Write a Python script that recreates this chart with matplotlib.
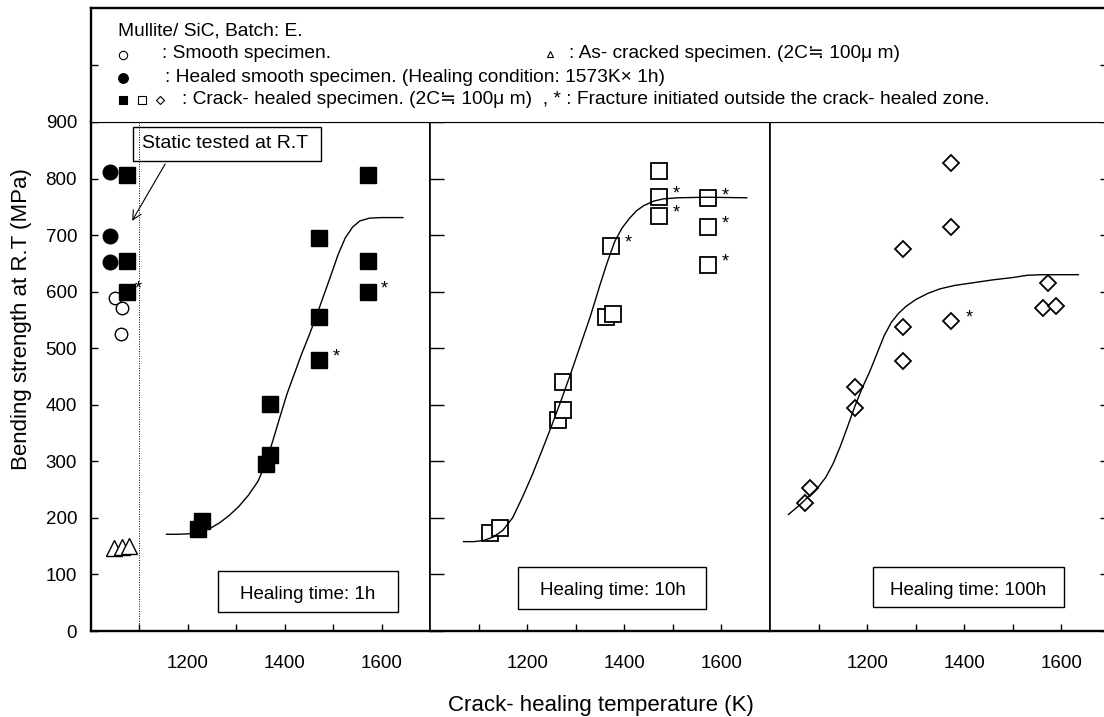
import matplotlib.pyplot as plt
from matplotlib.patches import Rectangle

plt.rcParams['font.family'] = ['Liberation Sans', 'DejaVu Sans']

# ---- data (temperature K, strength MPa) ----
# static tests at R.T (plotted left of the dotted line, 1h panel)
smooth_x = [1049, 1064, 1062]
smooth_y = [588, 572, 526]
healed_smooth_x = [1040, 1040, 1040]
healed_smooth_y = [812, 698, 653]
cracked_x = [1047, 1063, 1078]
cracked_y = [147, 148, 150]
static_x = [1074, 1074, 1074]
static_y = [806, 655, 600]
static_out = [0, 0, 1]

# healing time 1h
h1_x = [1221, 1230, 1362, 1370, 1370, 1471, 1471, 1471, 1572, 1572, 1572]
h1_y = [180, 195, 295, 311, 401, 556, 479, 695, 806, 655, 600]
h1_out = [0, 0, 0, 0, 0, 0, 1, 0, 0, 0, 1]
fit1_x = [1156, 1180, 1205, 1225, 1245, 1265, 1285, 1305, 1325, 1345, 1360, 1375,
          1390, 1405, 1420, 1435, 1450, 1465, 1480, 1495, 1510, 1525, 1540, 1555,
          1575, 1600, 1644]
fit1_y = [171, 171, 172, 175, 181, 191, 204, 220, 240, 265, 295, 335,
          378, 420, 455, 490, 522, 556, 592, 628, 665, 695, 714, 725,
          730, 731, 731]

# healing time 10h
h10_x = [1124, 1144, 1263, 1274, 1273, 1362, 1377, 1373, 1472, 1472, 1472, 1573, 1573, 1573]
h10_y = [173, 183, 373, 390, 441, 556, 560, 681, 734, 768, 814, 647, 715, 765]
h10_out = [0, 0, 0, 0, 0, 0, 0, 1, 1, 1, 0, 1, 1, 1]
fit10_x = [1069, 1090, 1110, 1130, 1150, 1170, 1190, 1210, 1230, 1250, 1270, 1290,
           1310, 1330, 1350, 1365, 1380, 1395, 1410, 1425, 1440, 1460, 1480, 1510,
           1570, 1652]
fit10_y = [158, 158, 160, 166, 178, 200, 236, 275, 318, 362, 408, 456,
           506, 556, 612, 652, 688, 712, 729, 743, 752, 760, 764, 766,
           767, 766]

# healing time 100h
h100_x = [1072, 1082, 1174, 1174, 1273, 1273, 1273, 1373, 1373, 1373, 1563, 1588, 1573]
h100_y = [227, 252, 394, 432, 478, 537, 675, 549, 714, 828, 572, 575, 616]
h100_out = [0, 0, 0, 0, 0, 0, 0, 1, 0, 0, 0, 0, 0]
fit100_x = [1038, 1060, 1082, 1100, 1115, 1130, 1145, 1160, 1175, 1190, 1205, 1220,
            1235, 1250, 1265, 1280, 1300, 1325, 1350, 1380, 1420, 1460, 1500, 1530,
            1560, 1635]
fit100_y = [206, 222, 240, 255, 272, 296, 327, 362, 398, 430, 458, 490,
            522, 546, 562, 574, 586, 597, 605, 611, 616, 621, 625, 629,
            630, 630]

W, H = 1104, 717
fig = plt.figure(figsize=(W / 100, H / 100), dpi=100)


def fx(px):
    return px / W


def fy(py):
    return 1 - py / H


y0, y9, ytop = 631, 122, 8
bot = fy(y0)
hgt = fy(y9) - bot

ax1 = fig.add_axes([fx(91), bot, fx(430) - fx(91), hgt])
ax2 = fig.add_axes([fx(430), bot, fx(770) - fx(430), hgt])
ax3 = fig.add_axes([fx(770), bot, fx(1107) - fx(770), hgt])
axl = fig.add_axes([fx(91), fy(y9), fx(1107) - fx(91), fy(ytop) - fy(y9)])

for ax, xmax in ((ax1, 1700), (ax2, 1700), (ax3, 1000 + 337 / 0.4857)):
    ax.set_xlim(1000, xmax)
    ax.set_ylim(0, 900)
    ax.set_xticks(range(1100, 1601, 100))
    ax.set_xticklabels(['', '1200', '', '1400', '', '1600'])
    ax.tick_params(axis='x', direction='in', length=5, width=1, labelsize=13.5, pad=17)
    ax.spines['bottom'].set_linewidth(1.7)
    ax.spines['top'].set_linewidth(0.8)
    ax.spines['left'].set_linewidth(1.2)
    ax.spines['right'].set_linewidth(1.2)
    ax.set_yticks(range(0, 901, 100))

ax1.spines['left'].set_linewidth(1.7)
ax1.tick_params(axis='y', direction='in', length=5, width=1, labelsize=13.5, pad=10)
ax2.tick_params(axis='y', direction='in', length=10, width=1, labelleft=False)
ax3.tick_params(axis='y', direction='in', length=5, width=1, left=False, right=True,
                labelleft=False)

# top legend frame
axl.set_xlim(0, 1)
axl.set_ylim(900, 1100)
axl.set_xticks([])
axl.set_yticks([1000])
axl.tick_params(axis='y', direction='in', length=5, width=1, labelleft=False, right=True)
axl.spines['top'].set_linewidth(1.7)
axl.spines['left'].set_linewidth(1.7)
axl.spines['right'].set_linewidth(1.2)
axl.spines['bottom'].set_linewidth(0.8)

# ---- panel 1 ----
ax1.axvline(1100, color='black', linestyle=(0, (1, 1.5)), linewidth=0.7)
ax1.plot(healed_smooth_x, healed_smooth_y, 'o', color='black', markersize=10.5)
ax1.plot(smooth_x, smooth_y, 'o', mfc='white', mec='black', mew=1.0, markersize=9)
ax1.plot(cracked_x, cracked_y, '^', mfc='white', mec='black', mew=1.0, markersize=11)
ax1.plot(static_x, static_y, 's', color='black', markersize=12)
ax1.plot(h1_x, h1_y, 's', color='black', markersize=12)
ax1.plot(fit1_x, fit1_y, color='black', linewidth=1.0)

# ---- panel 2 ----
ax2.plot(h10_x, h10_y, 's', mfc='white', mec='black', mew=1.3, markersize=11.5)
ax2.plot(fit10_x, fit10_y, color='black', linewidth=1.0)

# ---- panel 3 ----
ax3.plot(h100_x, h100_y, 'D', mfc='white', mec='black', mew=1.3, markersize=8)
ax3.plot(fit100_x, fit100_y, color='black', linewidth=1.0)


def stars(ax, xs, ys, flags, dx=12):
    for x, y, f in zip(xs, ys, flags):
        if f:
            ax.annotate('*', (x, y), xytext=(dx, 2), textcoords='offset points',
                        fontsize=13, ha='center', va='center')


stars(ax1, static_x, static_y, static_out, dx=8)
stars(ax1, h1_x, h1_y, h1_out)
stars(ax2, h10_x, h10_y, h10_out)
stars(ax3, h100_x, h100_y, h100_out, dx=13)

# healing time boxes
for ax, (bx, by, bw, bh), (tx, ty), label in (
        (ax1, (0.3755, 0.038, 0.531, 0.079), (0.640, 0.072), 'Healing time: 1h'),
        (ax2, (0.2597, 0.044, 0.552, 0.081), (0.537, 0.080), 'Healing time: 10h'),
        (ax3, (0.3047, 0.047, 0.568, 0.079), (0.5875, 0.080), 'Healing time: 100h')):
    ax.add_patch(Rectangle((bx, by), bw, bh, transform=ax.transAxes, fill=False,
                           edgecolor='black', linewidth=1.0))
    ax.text(tx, ty, label, transform=ax.transAxes, ha='center', va='center', fontsize=13.5)

# static tested note
ax1.add_patch(Rectangle((0.1248, 0.924), 0.5528, 0.0668, transform=ax1.transAxes,
                        fill=False, edgecolor='black', linewidth=1.0))
ax1.text(0.1496, 0.957, 'Static tested at R.T', transform=ax1.transAxes,
         ha='left', va='center', fontsize=14)
ax1.annotate('', xy=(1082, 721), xytext=(1156, 830),
             arrowprops=dict(arrowstyle='->', color='black', linewidth=0.8,
                             mutation_scale=16))

# axis labels
fig.text(fx(601), fy(705), 'Crack- healing temperature (K)', ha='center', va='center',
         fontsize=16)
fig.text(fx(22), fy(319), 'Bending strength at R.T (MPa)', ha='center', va='center',
         rotation=90, fontsize=16)

# legend block
leg_size = 13.8
r1, r2, r3, r4 = 31, 54, 77, 99
fig.text(fx(118), fy(r1), 'Mullite/ SiC, Batch: E.', ha='left', va='center',
         fontsize=leg_size)
fig.text(fx(162), fy(r2), ': Smooth specimen.', ha='left', va='center', fontsize=leg_size)
fig.text(fx(569), fy(r2), ': As- cracked specimen. (2C\u2252 100\u03bc m)', ha='left',
         va='center', fontsize=leg_size)
fig.text(fx(165), fy(r3), ': Healed smooth specimen. (Healing condition: 1573K\u00d7 1h)',
         ha='left', va='center', fontsize=leg_size)
fig.text(fx(182), fy(r4), ': Crack- healed specimen. (2C\u2252 100\u03bc m)  , * : '
         'Fracture initiated outside the crack- healed zone.',
         ha='left', va='center', fontsize=leg_size)

legend_marks = [
    (123, r2 + 1, 'o', 'white', 6),
    (550, r2, '^', 'white', 5),
    (123, r3 + 1, 'o', 'black', 7),
    (123, r4 + 1, 's', 'black', 6),
    (142, r4 + 1, 's', 'white', 6),
    (160, r4 + 1, 'D', 'white', 4.3),
]
for px, py, m, fc, ms in legend_marks:
    fig.add_artist(plt.Line2D([fx(px)], [fy(py)], marker=m, mfc=fc, mec='black',
                              mew=0.8, markersize=ms, linestyle='none',
                              transform=fig.transFigure))

fig.savefig('out.png', dpi=100)
